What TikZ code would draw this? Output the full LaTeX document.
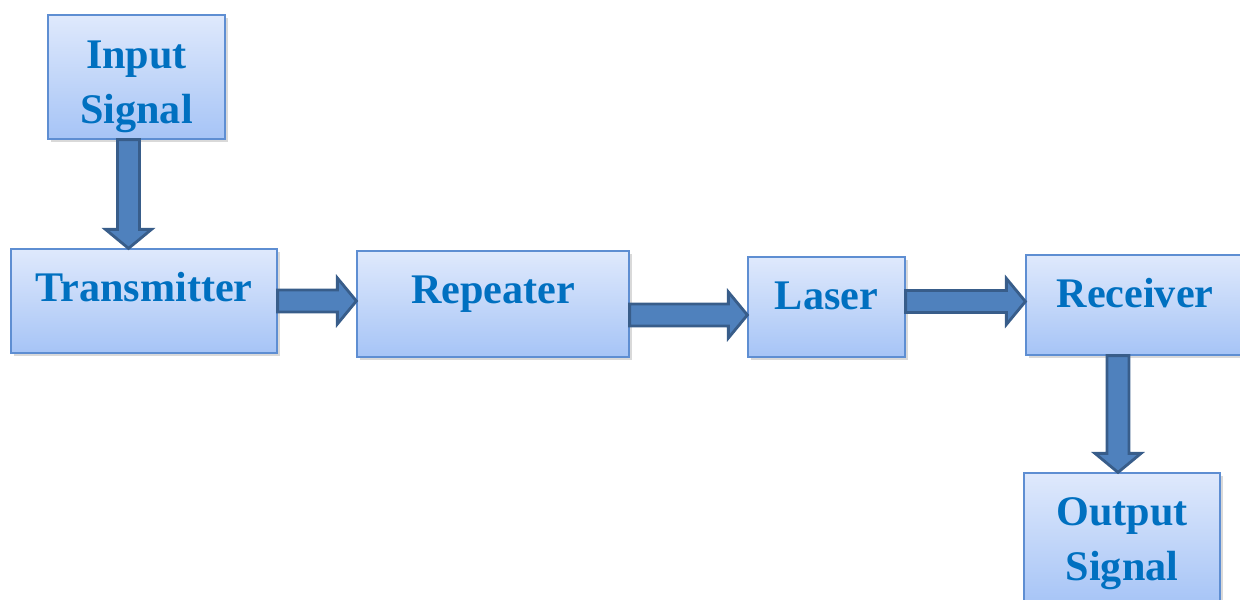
\documentclass[tikz,border=0pt]{standalone}
\usepackage{fontspec}
\setmainfont{Liberation Serif}
\usepackage{tikz}
\usetikzlibrary{positioning, calc, shadows}
\usepackage{xcolor}

\definecolor{boxtop}{HTML}{DFE9FC}
\definecolor{boxbot}{HTML}{A6C4F6}
\definecolor{boxline}{HTML}{5E8ED2}
\definecolor{txtblue}{HTML}{0070C0}
\definecolor{arrfill}{HTML}{4F81BD}
\definecolor{arrline}{HTML}{385D8A}

\tikzstyle{blk} = [draw=boxline, line width=0.7pt, top color=boxtop, bottom color=boxbot,
  inner sep=0pt, align=center, text=txtblue, font=\fontsize{24}{31}\selectfont\bfseries,
  drop shadow={shadow xshift=0.05cm, shadow yshift=-0.06cm, opacity=0.3}]
\tikzstyle{fatarr} = [draw=arrline, fill=arrfill, line width=1.6pt, line join=miter]

% block arrow from #1 to #2
\newcommand{\fatarrow}[2]{%
  \coordinate (hb) at ($(#2)!0.38cm!(#1)$);
  \draw[fatarr] ($(#1)!0.22cm!90:(#2)$) -- ($(hb)!0.22cm!90:(#2)$) -- ($(hb)!0.46cm!90:(#2)$)
    -- (#2) -- ($(hb)!0.46cm!-90:(#2)$) -- ($(hb)!0.22cm!-90:(#2)$) -- ($(#1)!0.22cm!-90:(#2)$) -- cycle;}

\begin{document}
\begin{tikzpicture}
    \useasboundingbox (0,0) rectangle (24.8,-11.98);

    % Blocks
    \node[blk, minimum width=3.54cm, text height=2.16cm, text depth=0.32cm] (inp) at (2.73,-1.54) {Input\\Signal};
    \node[blk, minimum width=5.32cm, text height=1.04cm, text depth=1.04cm] (trans) at (2.88,-6.02) {Transmitter};
    \node[blk, minimum width=5.44cm, text height=1.04cm, text depth=1.08cm] (rep) at (9.86,-6.08) {Repeater};
    \node[blk, minimum width=3.14cm, text height=1.04cm, text depth=0.96cm] (las) at (16.53,-6.14) {Laser};
    \node[blk, minimum width=4.36cm, text height=1.04cm, text depth=0.96cm] (rec) at (22.70,-6.10) {Receiver};
    \node[blk, minimum width=3.92cm, text height=2.14cm, text depth=0.50cm] (out) at (22.44,-10.78) {Output\\Signal};

    % Arrows
    \coordinate (a1) at ([xshift=-0.16cm]inp.south);
    \coordinate (b1) at (a1 |- trans.north);
    \fatarrow{a1}{b1}
    \coordinate (a2) at (trans.east);
    \coordinate (b2) at (a2 -| rep.west);
    \fatarrow{a2}{b2}
    \coordinate (a3) at ([yshift=-0.22cm]rep.east);
    \coordinate (b3) at (a3 -| las.west);
    \fatarrow{a3}{b3}
    \coordinate (a4) at ([yshift=0.11cm]las.east);
    \coordinate (b4) at (a4 -| rec.west);
    \fatarrow{a4}{b4}
    \coordinate (a5) at ([xshift=-0.34cm]rec.south);
    \coordinate (b5) at (a5 |- out.north);
    \fatarrow{a5}{b5}

\end{tikzpicture}
\end{document}
